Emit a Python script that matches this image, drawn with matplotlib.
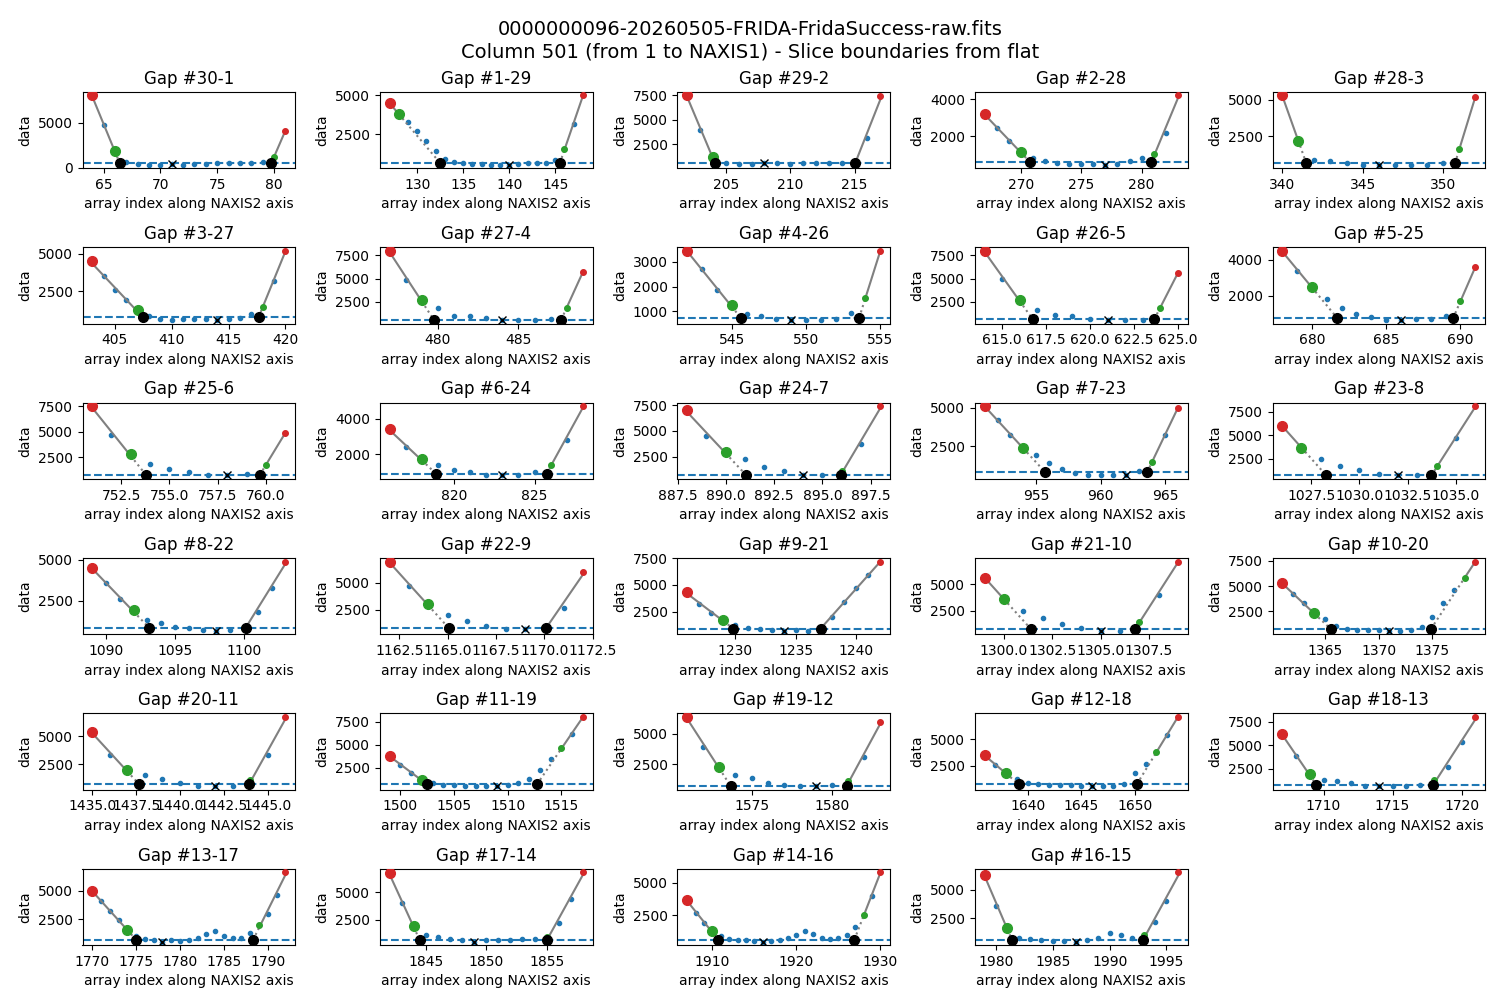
import numpy as np
import matplotlib
matplotlib.use("Agg")
import matplotlib.pyplot as plt

titles = ["Gap #30-1", "Gap #1-29", "Gap #29-2", "Gap #2-28", "Gap #28-3",
          "Gap #3-27", "Gap #27-4", "Gap #4-26", "Gap #26-5", "Gap #5-25",
          "Gap #25-6", "Gap #6-24", "Gap #24-7", "Gap #7-23", "Gap #23-8",
          "Gap #8-22", "Gap #22-9", "Gap #9-21", "Gap #21-10", "Gap #10-20",
          "Gap #20-11", "Gap #11-19", "Gap #19-12", "Gap #12-18", "Gap #18-13",
          "Gap #13-17", "Gap #17-14", "Gap #14-16", "Gap #16-15"]
x_starts = [64, 127, 202, 267, 340, 403, 477, 542, 614, 678,
            751, 816, 888, 951, 1026, 1089, 1162, 1226, 1299, 1361,
            1435, 1499, 1571, 1636, 1707, 1770, 1842, 1907, 1979]
values = [
    [8000, 4700, 1900, 600, 450, 350, 350, 400, 350, 450, 450, 550, 550, 550, 500, 650, 1200, 4100],
    [4500, 3800, 3300, 2700, 2050, 1400, 900, 750, 650, 600, 600, 550, 550, 550, 600, 650, 650, 650, 850, 1550, 3150, 5000],
    [7500, 3900, 1200, 550, 500, 480, 520, 520, 500, 550, 600, 520, 550, 700, 3100, 7400],
    [3200, 2450, 1750, 1150, 800, 650, 550, 500, 500, 500, 450, 500, 650, 800, 1050, 2150, 4200],
    [5300, 2200, 900, 800, 650, 550, 550, 550, 550, 550, 650, 1600, 5200],
    [4500, 3500, 2600, 1900, 1300, 900, 700, 600, 650, 650, 700, 600, 650, 750, 1000, 1500, 3200, 5200],
    [8000, 4900, 2700, 1800, 1000, 1000, 750, 550, 550, 600, 650, 1900, 5700],
    [3450, 2700, 1850, 1250, 900, 800, 700, 650, 650, 650, 700, 950, 1550, 3450],
    [8000, 5000, 2700, 1600, 1100, 1000, 700, 550, 600, 600, 1900, 5600],
    [4500, 3400, 2500, 1800, 1300, 1000, 800, 650, 650, 700, 700, 900, 1700, 3600],
    [7500, 4700, 2800, 1900, 1400, 1100, 800, 750, 850, 1800, 4900],
    [3400, 2400, 1700, 1400, 1100, 1000, 850, 800, 800, 1000, 1400, 2800, 4700],
    [7000, 4500, 3000, 2300, 1500, 1100, 750, 700, 1100, 3700, 7400],
    [5100, 4200, 3200, 2400, 1900, 1400, 1000, 750, 600, 600, 650, 600, 900, 1500, 3200, 5000],
    [6000, 3700, 2500, 1800, 1300, 950, 750, 800, 1700, 4700, 8100],
    [4500, 3600, 2600, 1900, 1300, 1100, 900, 800, 700, 650, 700, 850, 1800, 3300, 4900],
    [7000, 4700, 3000, 2000, 1400, 1000, 700, 650, 750, 2700, 6000],
    [4300, 3200, 2400, 1700, 1200, 950, 850, 750, 700, 750, 700, 900, 2000, 3400, 4700, 5900, 7200],
    [5600, 3600, 2500, 1800, 1300, 900, 650, 650, 1500, 4000, 7100],
    [5300, 4200, 3300, 2300, 1800, 1100, 800, 700, 650, 650, 600, 600, 700, 1000, 2000, 3300, 4600, 5800, 7400],
    [5400, 3300, 2000, 1500, 1200, 800, 600, 550, 600, 1100, 3300, 6700],
    [3800, 2800, 1900, 1200, 800, 650, 600, 550, 550, 550, 500, 600, 800, 1300, 2200, 3400, 4600, 6200, 8000],
    [6400, 3900, 2300, 1600, 1400, 1000, 800, 750, 700, 800, 1100, 3100, 6000],
    [3500, 2600, 1800, 1300, 900, 800, 750, 700, 700, 650, 600, 650, 650, 800, 1800, 2700, 3800, 5400, 7100],
    [6200, 3800, 1900, 1300, 1200, 1000, 700, 650, 700, 700, 800, 1300, 2700, 5300, 8000],
    [5000, 4100, 3200, 2400, 1600, 1000, 750, 700, 550, 650, 600, 700, 900, 1200, 1500, 1000, 900, 850, 1300, 2000, 3000, 4600, 6600],
    [6700, 4000, 1900, 1100, 900, 700, 650, 500, 600, 650, 650, 700, 700, 900, 2200, 4400, 6800],
    [3700, 2700, 1900, 1300, 900, 700, 650, 600, 550, 500, 550, 650, 800, 1000, 1300, 1100, 800, 700, 750, 1000, 1600, 2500, 4000, 5800],
    [6300, 3600, 1700, 800, 750, 650, 550, 550, 500, 650, 800, 1200, 1100, 800, 1100, 2200, 4000, 6500],
]
left_green = [66, 128, 204, 270, 341, 407, 479, 545, 616, 680,
              753, 818, 890, 954, 1027, 1092, 1164, 1229, 1300, 1364,
              1437, 1502, 1573, 1638, 1709, 1774, 1844, 1910, 1981]
right_green = [80, 146, 215, 281, 351, 418, 488, 554, 624, 690,
               760, 826, 896, 964, 1034, 1100, 1170, 1237, 1307, 1378,
               1444, 1515, 1581, 1652, 1718, 1789, 1855, 1928, 1993]
center_x = [71, 140, 208, 277, 346, 414, 484, 549, 621, 686,
            758, 823, 894, 962, 1032, 1098, 1169, 1234, 1305, 1371,
            1442, 1509, 1579, 1646, 1714, 1778, 1849, 1916, 1987]
baselines = [500, 650, 550, 600, 650, 800, 600, 750, 650, 750,
             800, 900, 750, 800, 750, 850, 800, 900, 850, 800,
             700, 700, 700, 800, 800, 700, 650, 650, 650]

fig, axes = plt.subplots(6, 5, figsize=(15, 10), dpi=100)
fig.subplots_adjust(left=0.055, right=0.99, top=0.908, bottom=0.055, wspace=0.4, hspace=1.04)
fig.suptitle("0000000096-20260505-FRIDA-FridaSuccess-raw.fits\n"
             "Column 501 (from 1 to NAXIS1) - Slice boundaries from flat", fontsize=14)

for i, ax in enumerate(axes.flat):
    if i >= len(titles):
        ax.remove()
        continue
    y = np.array(values[i], dtype=float)
    x = np.arange(x_starts[i], x_starts[i] + len(y))
    base = baselines[i]
    il = left_green[i] - x_starts[i]
    ir = right_green[i] - x_starts[i]
    ic = center_x[i] - x_starts[i]
    pl = np.polyfit(x[:il + 1], y[:il + 1], 1)
    xbl = (base - pl[1]) / pl[0]
    pr = np.polyfit(x[ir:], y[ir:], 1)
    xbr = (base - pr[1]) / pr[0]
    ax.plot(x, y, 'o', color='C0', ms=3, zorder=2)
    ax.axhline(base, color='C0', ls='--', lw=1.5, zorder=1)
    ax.plot([x[0], x[il]], np.polyval(pl, [x[0], x[il]]), '-', color='grey', zorder=3)
    ax.plot([x[il], xbl], [np.polyval(pl, x[il]), base], ':', color='grey', zorder=3)
    ax.plot([x[ir], x[-1]], np.polyval(pr, [x[ir], x[-1]]), '-', color='grey', zorder=3)
    ax.plot([xbr, x[ir]], [base, np.polyval(pr, x[ir])], ':', color='grey', zorder=3)
    ax.plot(x[0], y[0], 'o', color='C3', ms=7, zorder=4)
    ax.plot(x[il], y[il], 'o', color='C2', ms=7, zorder=4)
    ax.plot(x[-1], y[-1], 'o', color='C3', ms=4, zorder=4)
    ax.plot(x[ir], y[ir], 'o', color='C2', ms=4, zorder=4)
    ax.plot([xbl, xbr], [base, base], 'o', color='k', ms=7, zorder=5)
    ax.plot(x[ic], y[ic], 'x', color='k', ms=6, zorder=5)
    ax.set_title(titles[i])
    ax.set_xlabel("array index along NAXIS2 axis")
    ax.set_ylabel("data")

fig.savefig("out.png")
